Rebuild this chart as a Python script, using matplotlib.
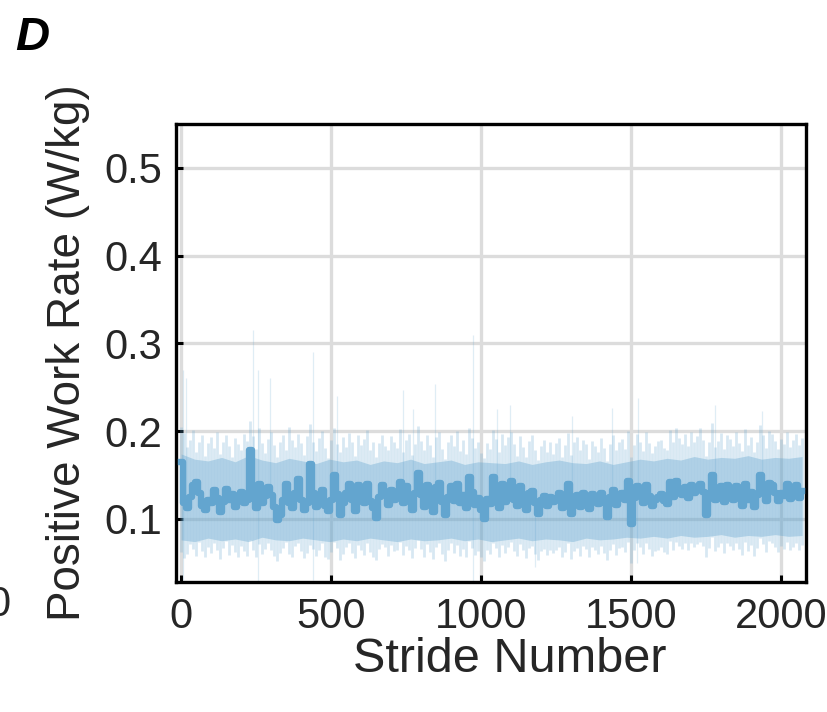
import numpy as np
import matplotlib
matplotlib.use('Agg')
import matplotlib.pyplot as plt

plt.rcParams['font.family'] = ['Liberation Sans', 'DejaVu Sans']

# stride-averaged positive work rate (x1000 W/kg), every 10 strides
strides = np.arange(0, 2071, 10)
mean_rate = np.array([
    165, 118, 112, 125, 138, 142, 130, 115, 110, 121,
    118, 133, 124, 108, 119, 134, 122, 128, 113, 125,
    131, 118, 122, 178, 124, 112, 140, 118, 126, 136,
    127, 114, 99, 104, 121, 140, 118, 112, 129, 145,
    122, 110, 118, 162, 130, 113, 125, 133, 115, 109,
    121, 150, 128, 104, 118, 130, 140, 122, 109, 138,
    126, 118, 140, 120, 112, 101, 125, 139, 130, 116,
    133, 121, 126, 142, 118, 137, 124, 110, 130, 152,
    127, 114, 138, 120, 108, 136, 141, 119, 104, 125,
    137, 120, 140, 118, 127, 112, 148, 131, 116, 124,
    110, 100, 123, 117, 148, 128, 112, 140, 119, 131,
    143, 122, 115, 137, 126, 110, 129, 132, 118, 106,
    121, 126, 115, 125, 119, 124, 130, 112, 121, 140,
    106, 122, 127, 114, 129, 126, 111, 128, 124, 117,
    130, 119, 102, 125, 133, 116, 128, 130, 121, 143,
    94, 124, 137, 129, 118, 138, 126, 115, 122, 125,
    128, 120, 117, 142, 125, 143, 131, 127, 136, 124,
    138, 129, 134, 140, 131, 104, 128, 150, 122, 128,
    137, 119, 138, 130, 122, 137, 126, 115, 140, 121,
    131, 113, 127, 150, 133, 120, 141, 138, 129, 120,
    130, 126, 140, 123, 128, 138, 124, 132]) / 1000

# outer ragged edge of the spread
fringe_hi = np.array([
    205, 198, 182, 190, 201, 176, 188, 195, 172, 186,
    193, 181, 199, 174, 187, 196, 183, 170, 192, 185,
    178, 197, 189, 212, 194, 180, 203, 186, 175, 191,
    199, 184, 171, 188, 196, 179, 205, 190, 182, 197,
    186, 173, 194, 208, 188, 177, 192, 200, 181, 169,
    190, 204, 185, 176, 193, 182, 198, 187, 172, 195,
    184, 191, 201, 179, 188, 170, 186, 196, 183, 178,
    194, 187, 181, 202, 176, 190, 197, 173, 185, 206,
    189, 178, 195, 184, 171, 193, 199, 180, 168, 187,
    196, 183, 200, 177, 190, 174, 203, 192, 181, 188,
    175, 169, 186, 180, 201, 191, 176, 197, 184, 193,
    199, 185, 172, 194, 182, 170, 189, 195, 178, 167,
    183, 190, 176, 188, 174, 186, 192, 171, 184, 198,
    173, 187, 193, 179, 190, 185, 168, 189, 183, 176,
    192, 181, 166, 185, 196, 178, 188, 191, 180, 200,
    171, 184, 197, 188, 177, 199, 186, 175, 183, 189,
    190, 181, 178, 201, 187, 204, 192, 185, 197, 183,
    199, 188, 194, 203, 190, 172, 187, 209, 182, 189,
    198, 180, 196, 191, 183, 199, 186, 177, 202, 184,
    193, 176, 188, 207, 195, 181, 200, 197, 189, 180,
    191, 185, 199, 182, 190, 197, 184, 192]) / 1000
fringe_lo = np.array([
    62, 55, 60, 71, 66, 58, 74, 63, 57, 68,
    61, 72, 65, 54, 67, 75, 59, 70, 62, 56,
    69, 63, 58, 76, 64, 57, 71, 60, 66, 73,
    65, 58, 52, 61, 67, 74, 60, 56, 69, 72,
    63, 55, 61, 70, 66, 58, 64, 72, 57, 54,
    62, 74, 67, 53, 60, 68, 73, 61, 55, 70,
    64, 59, 72, 62, 56, 53, 66, 71, 68, 58,
    70, 63, 65, 74, 59, 69, 64, 55, 67, 76,
    66, 57, 71, 62, 54, 68, 73, 60, 52, 64,
    72, 61, 70, 58, 66, 56, 75, 67, 59, 63,
    57, 52, 64, 60, 73, 67, 56, 70, 61, 68,
    74, 63, 58, 71, 65, 55, 67, 69, 60, 53,
    63, 66, 59, 65, 61, 64, 68, 56, 62, 72,
    54, 63, 67, 58, 69, 66, 56, 68, 64, 60,
    69, 61, 53, 65, 71, 59, 67, 68, 62, 74,
    50, 64, 72, 68, 60, 73, 66, 58, 63, 65,
    68, 62, 60, 75, 65, 74, 69, 66, 72, 64,
    73, 68, 71, 74, 69, 57, 67, 79, 63, 68,
    72, 61, 73, 69, 64, 72, 66, 59, 74, 63,
    70, 58, 67, 78, 71, 62, 75, 73, 68, 62,
    69, 66, 74, 64, 68, 73, 65, 70]) / 1000

# dense core of the spread, every 45 strides
core_x = np.arange(0, 2071, 45)
core_hi = np.array([
    174, 168, 166, 170, 165, 172, 167, 164, 169, 166, 163, 168, 165, 167, 162, 166,
    164, 168, 163, 165, 167, 162, 165, 164, 163, 166, 162, 165, 167, 164, 163, 166,
    162, 165, 168, 166, 169, 167, 171, 168, 170, 169, 172, 168, 170, 169, 171]) / 1000
core_lo = np.array([
    76, 74, 78, 75, 77, 74, 79, 76, 75, 78, 76, 74, 77, 75, 78, 76,
    74, 77, 75, 76, 78, 75, 77, 74, 76, 78, 75, 77, 76, 74, 78, 76,
    77, 79, 78, 80, 78, 81, 79, 80, 82, 79, 81, 80, 82, 80, 81]) / 1000

# single strides that stick far out
up_spike_x = [7, 17, 240, 255, 297, 440, 520, 740, 773, 847, 973, 1053, 1097, 1303,
              1437, 1523, 1780, 1937]
up_spike_top = [0.27, 0.26, 0.315, 0.27, 0.26, 0.29, 0.24, 0.247, 0.225, 0.254, 0.31,
                0.225, 0.23, 0.217, 0.226, 0.238, 0.23, 0.223]
down_spike_x = [7, 255, 440, 973, 1180, 1520]
down_spike_bottom = [0.03, 0.028, 0.03, 0.025, 0.045, 0.05]

blue = '#63a5cf'
ink = '#262626'

fig = plt.figure(figsize=(8.27, 7.12), dpi=100)
ax = fig.add_axes([0.2128, 0.1826, 0.7618, 0.6432])

ax.fill_between(core_x, core_lo, core_hi, color=blue, alpha=0.37, lw=0, zorder=2)
ax.vlines(strides, fringe_lo, fringe_hi, color=blue, alpha=0.25, lw=2.0, zorder=2)
ax.vlines(up_spike_x, 0.12, up_spike_top, color=blue, alpha=0.2, lw=0.9, zorder=2)
ax.vlines(down_spike_x, down_spike_bottom, 0.12, color=blue, alpha=0.2, lw=0.9, zorder=2)
ax.plot(strides, mean_rate, color=blue, lw=4.6, zorder=3, drawstyle='steps-mid')

ax.set_xlim(-17, 2083)
ax.set_ylim(0.028, 0.55)
ax.set_xticks([0, 500, 1000, 1500, 2000])
ax.set_yticks([0.1, 0.2, 0.3, 0.4, 0.5])
ax.set_yticklabels(['0.1', '0.2', '0.3', '0.4', '0.5'])
ax.grid(True, color='#dcdcdc', lw=2.4)
ax.set_axisbelow(True)

for s in ax.spines.values():
    s.set_linewidth(2.4)
    s.set_color('black')
ax.tick_params(direction='in', length=5, width=2.2, labelsize=30, colors='black',
               labelcolor=ink)
ax.tick_params(axis='x', pad=11)
ax.tick_params(axis='y', pad=10)

ax.set_xlabel('Stride Number', fontsize=35, color=ink)
ax.xaxis.set_label_coords(0.53, -0.17)
ax.xaxis.label.set_va('center')
ax.set_ylabel('Positive Work Rate (W/kg)', fontsize=33, color=ink)
ax.yaxis.label.set_va('center')
ax.yaxis.set_label_coords(-0.171, 0.5)

fig.text(15 / 827, 1 - 38 / 712, 'D', fontsize=34, fontweight='bold',
         fontstyle='italic', va='center', ha='left')
# edge of the neighbouring panel's tick label
fig.text(0.013, 0.15, '0', fontsize=30, color=ink, ha='right', va='center')

fig.savefig('out.png', dpi=100)
